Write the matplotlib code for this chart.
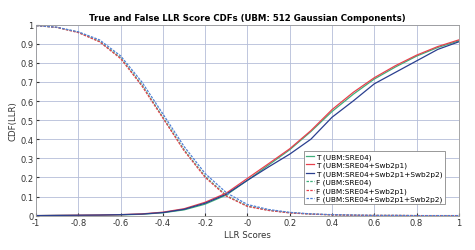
import numpy as np
import matplotlib
matplotlib.use('Agg')
import matplotlib.pyplot as plt

# LLR score grid (x values read at 0.1 steps)
llr = [-1.0, -0.9, -0.8, -0.7, -0.6, -0.5, -0.4, -0.3, -0.2, -0.1, 0.0,
       0.1, 0.2, 0.3, 0.4, 0.5, 0.6, 0.7, 0.8, 0.9, 1.0]

# true score CDFs (rising)
t_sre04 = [0.0, 0.001, 0.001, 0.002, 0.004, 0.007, 0.015, 0.030, 0.060, 0.108, 0.185,
           0.265, 0.345, 0.440, 0.545, 0.635, 0.715, 0.778, 0.835, 0.880, 0.915]
t_swb1 = [0.0, 0.001, 0.002, 0.003, 0.005, 0.009, 0.018, 0.036, 0.070, 0.118, 0.195,
          0.272, 0.350, 0.445, 0.555, 0.645, 0.722, 0.785, 0.840, 0.885, 0.920]
t_swb2 = [0.0, 0.001, 0.002, 0.003, 0.005, 0.008, 0.016, 0.033, 0.065, 0.112, 0.185,
          0.255, 0.322, 0.400, 0.515, 0.600, 0.690, 0.750, 0.810, 0.870, 0.910]

# false score curves (falling)
f_sre04 = [0.995, 0.985, 0.960, 0.912, 0.826, 0.685, 0.515, 0.345, 0.205, 0.105, 0.050,
           0.028, 0.015, 0.008, 0.004, 0.002, 0.001, 0.001, 0.0, 0.0, 0.0]
f_swb1 = [0.995, 0.985, 0.958, 0.910, 0.822, 0.680, 0.510, 0.340, 0.200, 0.102, 0.048,
          0.027, 0.014, 0.008, 0.004, 0.002, 0.001, 0.001, 0.0, 0.0, 0.0]
f_swb2 = [0.995, 0.986, 0.962, 0.920, 0.836, 0.700, 0.532, 0.362, 0.220, 0.120, 0.058,
          0.032, 0.017, 0.009, 0.005, 0.003, 0.001, 0.001, 0.0, 0.0, 0.0]

labels = ['T (UBM:SRE04)', 'T (UBM:SRE04+Swb2p1)', 'T (UBM:SRE04+Swb2p1+Swb2p2)',
          'F (UBM:SRE04)', 'F (UBM:SRE04+Swb2p1)', 'F (UBM:SRE04+Swb2p1+Swb2p2)']

c_green = '#3fae7a'
c_red = '#e8404c'
c_dblue = '#2a3f8f'
c_lblue = '#4f7fd6'

fig = plt.figure(figsize=(4.75, 2.51), dpi=100)
ax = fig.add_axes([0.076, 0.137, 0.890, 0.761])

ax.plot(llr, t_sre04, color=c_green, lw=0.9, label=labels[0])
ax.plot(llr, t_swb1, color=c_red, lw=0.9, label=labels[1])
ax.plot(llr, t_swb2, color=c_dblue, lw=0.9, label=labels[2])
ax.plot(llr, f_sre04, color=c_green, lw=0.9, ls='--', dashes=(2, 1), label=labels[3])
ax.plot(llr, f_swb1, color=c_red, lw=0.9, ls='--', dashes=(2, 1), label=labels[4])
ax.plot(llr, f_swb2, color=c_lblue, lw=0.9, ls='--', dashes=(2, 1), label=labels[5])

ax.set_xlim(-1, 1)
ax.set_ylim(0, 1)
xt = np.round(np.arange(-1, 1.01, 0.2), 1)
ax.set_xticks(xt)
ax.set_xticklabels(['%g' % v for v in xt])
yt = np.round(np.arange(0, 1.01, 0.1), 1)
ax.set_yticks(yt)
ax.set_yticklabels(['%g' % v for v in yt])
ax.tick_params(labelsize=6, length=2, direction='in', pad=2, colors='#333333')
ax.grid(True, color='#b4bdd8', lw=0.6)
for s in ax.spines.values():
    s.set_color('#999999')
    s.set_linewidth(0.6)

ax.set_title('True and False LLR Score CDFs (UBM: 512 Gaussian Components)',
             fontsize=6.2, fontweight='bold', pad=3)
ax.set_xlabel('LLR Scores', fontsize=6.2, labelpad=2, color='#333333')
ax.set_ylabel('CDF(LLR)', fontsize=6.2, labelpad=2, color='#333333')

leg = ax.legend(loc='lower right', fontsize=5.3, handlelength=1.0, handletextpad=0.3,
                labelspacing=0.25, borderpad=0.3, bbox_to_anchor=(0.975, 0.04),
                fancybox=False, framealpha=1)
leg.get_frame().set_edgecolor('#888888')
leg.get_frame().set_linewidth(0.6)

fig.savefig('out.png', dpi=100)
